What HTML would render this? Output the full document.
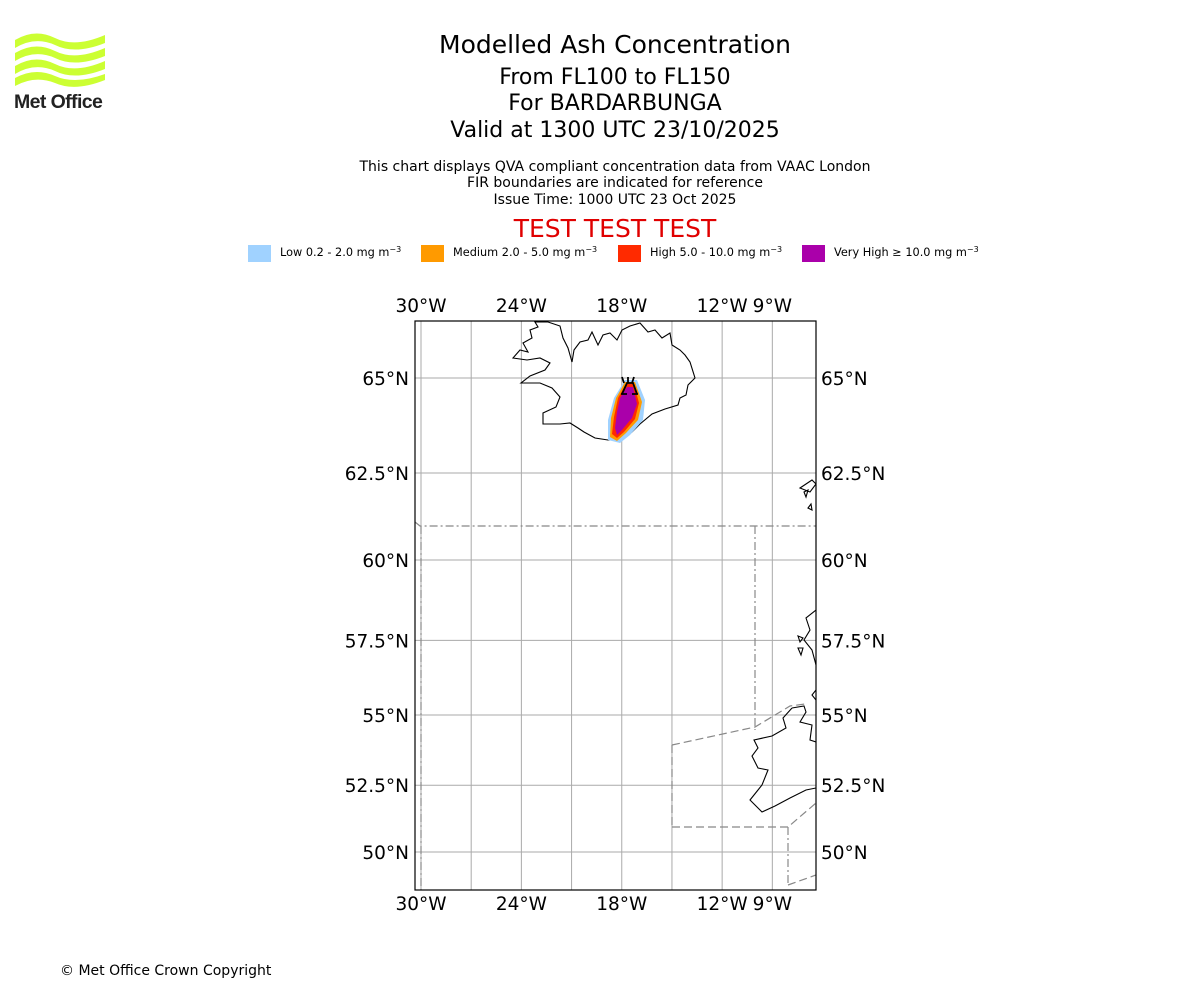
<!DOCTYPE html>
<html><head><meta charset="utf-8"><style>
body{margin:0;background:#fff;font-family:"Liberation Sans","DejaVu Sans",sans-serif}
#wrap{position:relative;width:1200px;height:1000px;overflow:hidden}
</style></head><body>
<div id="wrap">
<svg width="1200" height="1000" xmlns="http://www.w3.org/2000/svg" font-family="DejaVu Sans, Liberation Sans, sans-serif">
<g>
<path d="M15 40 Q35 28 55 38 Q75 48 105 35 L105 43 Q75 55 55 45 Q35 36 15 48Z" fill="#ccff33"/>
<path d="M15 53 Q35 41 55 51 Q75 61 105 48 L105 56 Q75 68 55 58 Q35 49 15 61Z" fill="#ccff33"/>
<path d="M15 66 Q35 54 55 64 Q75 74 105 61 L105 69 Q75 81 55 71 Q35 62 15 74Z" fill="#ccff33"/>
<path d="M15 78 Q35 67 55 76 Q75 85 105 74 L105 80 Q75 92 55 83 Q35 75 15 86Z" fill="#ccff33"/>
<text x="14" y="108" font-size="19.5" font-weight="bold" fill="#222" font-family="Liberation Sans, sans-serif" letter-spacing="-0.6">Met Office</text>
</g>
<g text-anchor="middle" fill="#000">
<text x="615" y="53" font-size="25">Modelled Ash Concentration</text>
<text x="615" y="84" font-size="22">From FL100 to FL150</text>
<text x="615" y="110" font-size="22">For BARDARBUNGA</text>
<text x="615" y="137" font-size="22">Valid at 1300 UTC 23/10/2025</text>
<text x="615" y="171" font-size="14">This chart displays QVA compliant concentration data from VAAC London</text>
<text x="615" y="187" font-size="14">FIR boundaries are indicated for reference</text>
<text x="615" y="204" font-size="14">Issue Time: 1000 UTC 23 Oct 2025</text>
<text x="615" y="237" font-size="25" fill="#e00000">TEST TEST TEST</text>
</g>
<g font-size="11.3">
<g><rect x="248" y="245" width="23" height="17" fill="#a0d2ff"/><text x="280" y="256">Low 0.2 - 2.0 mg m<tspan dy="-4" font-size="8">−3</tspan></text></g>
<g><rect x="421" y="245" width="23" height="17" fill="#ff9a00"/><text x="453" y="256">Medium 2.0 - 5.0 mg m<tspan dy="-4" font-size="8">−3</tspan></text></g>
<g><rect x="618" y="245" width="23" height="17" fill="#ff2a00"/><text x="650" y="256">High 5.0 - 10.0 mg m<tspan dy="-4" font-size="8">−3</tspan></text></g>
<g><rect x="802" y="245" width="23" height="17" fill="#aa00aa"/><text x="834" y="256">Very High ≥ 10.0 mg m<tspan dy="-4" font-size="8">−3</tspan></text></g>
</g>
<defs><clipPath id="mc"><rect x="415" y="321" width="401" height="569"/></clipPath></defs>
<g id="map" clip-path="url(#mc)">
<g id="grid" stroke="#aaa" stroke-width="1"></g>
<g fill="none" stroke="#888" stroke-width="1.2">
<path d="M415 522 L420 526 L816 526" stroke-dasharray="8,3,2,3"/>
<path d="M421 526 L421 890" stroke-dasharray="8,3,2,3"/>
<path d="M755 526 L755 730" stroke-dasharray="8,3,2,3"/>
<path d="M672 745 L755 727 L790 706 L805 704" stroke-dasharray="8,4"/>
<path d="M672 745 L672 827 M672 827 L788 827 L816 803" stroke-dasharray="8,4"/>
<path d="M788 827 L788 886" stroke-dasharray="8,3,2,3"/>
<path d="M788 885 L816 875" stroke-dasharray="8,4"/>
</g>
<g fill="none" stroke="#000" stroke-width="1.1">
<path d="M513 358 L520 350 L528 352 L523 343 L532 338 L530 330 L538 327 L535 322 L548 322 L560 326 L563 338 L568 348 L572 362 L574 350 L580 342 L588 340 L592 332 L598 345 L603 335 L610 333 L617 340 L622 330 L630 326 L640 323 L648 332 L655 330 L662 338 L670 333 L672 345 L680 350 L685 355 L690 362 L695 378 L688 385 L686 395 L680 398 L678 405 L665 409 L652 414 L640 424 L632 432 L622 440 L608 440 L595 438 L584 432 L578 428 L570 423 L560 424 L543 424 L543 413 L556 407 L560 397 L552 388 L540 383 L521 383 L530 376 L545 370 L550 363 L540 358 L527 360 Z"/>
<path d="M800 488 L812 480 L816 484 L810 492 Z M808 508 L811 504 L812 510Z M804 492 L808 490 L806 497Z"/>
<path d="M816 610 L806 618 L810 630 L804 640 L812 650 L816 665 M798 636 L803 638 L800 642Z M798 648 L803 648 L801 655Z M816 690 L812 695 L816 700"/>
<path d="M792 708 L804 706 L806 712 L800 722 L812 725 L810 740 L816 742 M792 708 L783 718 L786 728 L772 736 L754 740 L758 748 L752 756 L758 768 L768 770 L762 785 L758 790 L750 800 L756 806 L762 812 L775 806 L790 798 L806 790 L816 788"/>
</g>
<g>
<path d="M625 380 L637 380 L645 400 L643 420 L630 435 L620 443 L608 440 L608 420 L614 398 Z" fill="#a0d2ff"/>
<path d="M625 382 L635 382 L642 402 L638 420 L626 433 L617 441 L610 437 L611 418 L616 398 Z" fill="#ff9a00"/>
<path d="M626 384 L634 384 L639 403 L635 419 L624 432 L617 438 L612 434 L614 417 L618 398 Z" fill="#ff2a00"/>
<path d="M627 387 L633 387 L637 404 L632 418 L622 430 L617 435 L615 428 L617 412 L620 398 Z" fill="#aa00aa"/>
<path d="M622 394 L627 383 L633 383 L637 394 M621 394 L627 394 M632 394 L638 394 M624 383 L622 377 M628 383 L628 377 M632 383 L634 377" stroke="#000" stroke-width="1.8" fill="none"/>
</g>
</g>
<rect x="415" y="321" width="401" height="569" fill="none" stroke="#000" stroke-width="1.2"/>
<g id="ticks" font-size="18.5" fill="#000"></g>
<text x="60" y="975" font-size="14" font-family="DejaVu Sans, sans-serif">© Met Office Crown Copyright</text>
</svg>
</div>
<script>
const lonTicks = [-30, -24, -18, -12, -9];
const lonGrid = [-30, -27, -24, -21, -18, -15, -12, -9];
const latTicks = [65, 62.5, 60, 57.5, 55, 52.5, 50];
const latLabels = ["65°N", "62.5°N", "60°N", "57.5°N", "55°N", "52.5°N", "50°N"];
const lonLabels = ["30°W", "24°W", "18°W", "12°W", "9°W"];
const ns = "http://www.w3.org/2000/svg";
function xOf(lon){ return 421 + (lon + 30) * 16.73; }
function yOf(lat){
  const u = lat - 50;
  return 852 - 26.2 * u - 0.18 * u * u - 0.012 * u * u * u;
}
const grid = document.getElementById('grid');
lonGrid.forEach(l => {
  const ln = document.createElementNS(ns, 'line');
  ln.setAttribute('x1', xOf(l)); ln.setAttribute('x2', xOf(l));
  ln.setAttribute('y1', 321); ln.setAttribute('y2', 890);
  
  
  grid.appendChild(ln);
});
latTicks.forEach(l => {
  const ln = document.createElementNS(ns, 'line');
  ln.setAttribute('x1', 415); ln.setAttribute('x2', 816);
  ln.setAttribute('y1', yOf(l)); ln.setAttribute('y2', yOf(l));
  
  
  grid.appendChild(ln);
});
const tk = document.getElementById('ticks');
function txt(x, y, s, anchor, name){
  const t = document.createElementNS(ns, 'text');
  t.setAttribute('x', x); t.setAttribute('y', y);
  t.setAttribute('text-anchor', anchor);
  t.textContent = s;
  
  
  tk.appendChild(t);
}
lonTicks.forEach((l, i) => {
  txt(xOf(l), 312, lonLabels[i], 'middle', 'top-longitude-label');
  txt(xOf(l), 910, lonLabels[i], 'middle', 'bottom-longitude-label');
});
latTicks.forEach((l, i) => {
  txt(409, yOf(l) + 7, latLabels[i], 'end', 'left-latitude-label');
  txt(821, yOf(l) + 7, latLabels[i], 'start', 'right-latitude-label');
});
</script>
</body></html>
